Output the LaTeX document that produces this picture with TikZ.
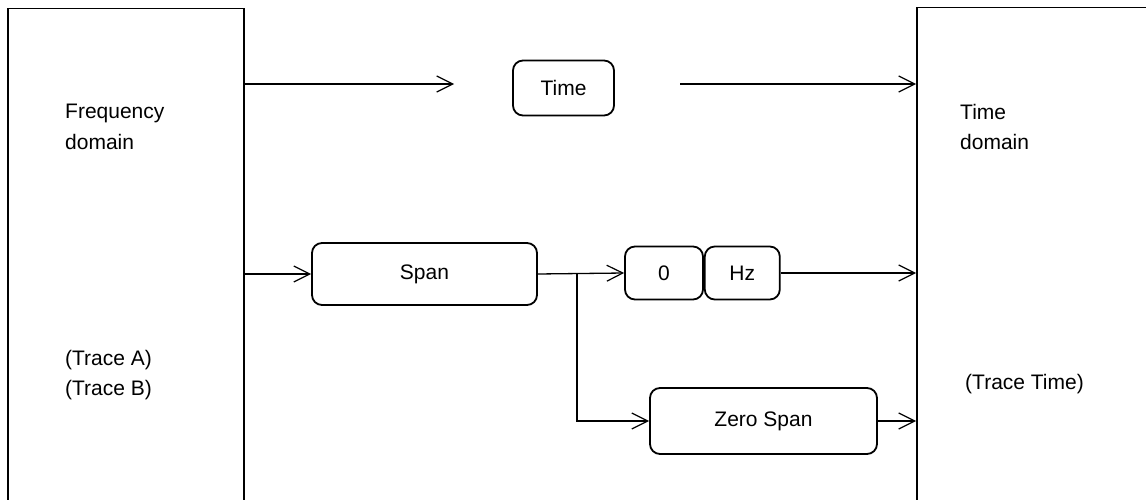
\documentclass[tikz,border=0pt]{standalone}
\usepackage{fontspec}
\setmainfont{Liberation Sans}
\usetikzlibrary{arrows.meta, positioning}
\tikzset{
  box/.style={
    rectangle,
    rounded corners=10pt,
    draw,
    line width=1.8pt,
    align=center,
    inner sep=0pt,
    font=\fontsize{21}{30}\selectfont
  },
  panel/.style={
    rectangle,
    draw,
    line width=1.5pt,
    inner sep=0pt,
    anchor=north west
  },
  arrow/.style={-{Straight Barb[length=16pt, width=16pt, line width=1.2pt]}, line width=1.3pt},
  note/.style={font=\fontsize{21}{30.5}\selectfont, align=left, anchor=west, inner sep=0pt}
}

\begin{document}
\begin{tikzpicture}[x=1pt,y=-1pt]
\clip (0,0) rectangle (1146,500);
\node[panel, minimum width=236pt, minimum height=560pt] (freq) at (7,8) {};
\node[panel, minimum width=300pt, minimum height=560pt] (tdom) at (916,7) {};
\node[note] (freqtxt) at (65,127) {Frequency\\domain};
\node[note] (tracesab) at (65,375) {(Trace A)\\(Trace B)};
\node[note] (tdomtxt) at (960,127) {Time\\domain};
\node[note] (tracet) at (965,384) {(Trace Time)};
\node[box, minimum width=101pt, minimum height=55pt] (time) at (563.5,88) {Time};
\node[box, minimum width=225pt, minimum height=62pt] (span) at (424.5,274) {Span};
\node[box, minimum width=78pt, minimum height=53pt] (zero) at (664,273) {0};
\node[box, minimum width=75pt, minimum height=53pt, right=0pt of zero] (hz) {Hz};
\node[box, minimum width=227pt, minimum height=66pt] (zspan) at (763.5,421) {Zero Span};

\coordinate (timein) at (454,84);
\coordinate (timeout) at (680,84);
\coordinate (fork) at (577,274);
\draw[arrow] (freq.east |- timein) -- (timein);
\draw[arrow] (timeout) -- (timeout -| tdom.west);
\draw[arrow] (freq.east |- span) -- (span.west);
\draw[arrow] (span.east) -- (zero.west);
\draw[arrow] (hz.east) -- (hz.east -| tdom.west);
\draw[arrow] (fork) |- (zspan.west);
\draw[arrow] (zspan.east) -- (zspan.east -| tdom.west);
\end{tikzpicture}
\end{document}
